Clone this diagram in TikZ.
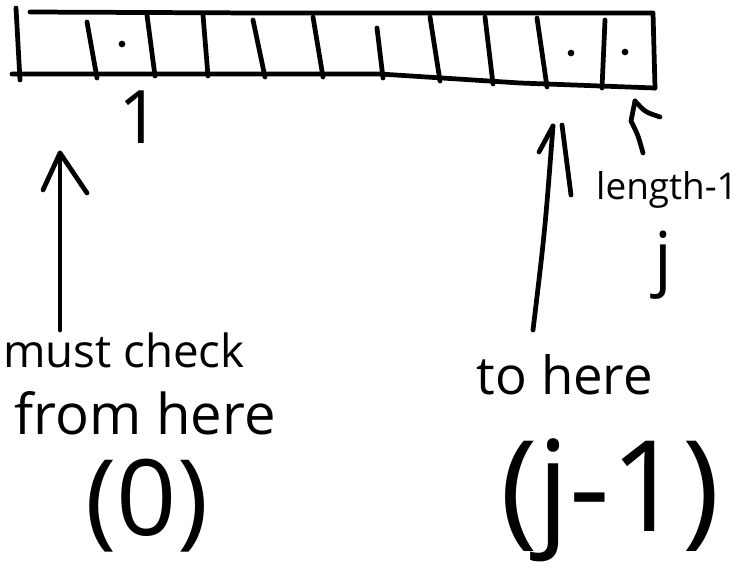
\documentclass[tikz,border=0pt]{standalone}
\usepackage{fontspec}
\setmainfont{Open Sans}
\usepackage{tikz}
\usetikzlibrary{calc}

\tikzset{
  ink/.style={line width=2.7pt, line cap=round, line join=round},
  dotmark/.style={circle, fill, inner sep=0pt, minimum size=3.8pt},
  hand/.style={inner sep=0pt, font=\fontsize{#1}{#1}\selectfont},
}

\begin{document}
\begin{tikzpicture}[x=0.02cm, y=-0.02cm]
    \useasboundingbox (0,0) rectangle (749,572);

    % 1. Outline of the array (left wall, top, right wall, bottom)
    \draw[ink] (16,8) -- (20,80);
    \draw[ink] (30,12) -- (260,13) -- (653,13) -- (655,88);
    \draw[ink] (12,74) -- (380,74) -- (520,83) -- (655,88);

    % 2. Walls between the cells, a bit slanted as drawn by hand
    \foreach \xt/\yt/\xb/\yb in {87/22/97/78, 147/15/155/76, 203/15/208/76,
                                 253/20/265/77, 313/17/323/77, 377/28/383/78,
                                 430/17/440/81, 485/17/493/84, 537/18/547/87,
                                 605/20/602/88}
      \draw[ink] (\xt,\yt) -- (\xb,\yb);

    % 3. Dots in the marked cells
    \node[dotmark] (dotone) at (122,44) {};
    \node[dotmark] (dotprev) at (571,53) {};
    \node[dotmark] (dotlast) at (625,52) {};

    % 4. Labels
    \node[hand=42] (one) at (140,117) {1};
    \node[hand=26] (check) at (124,350) {must check};
    \node[hand=32] (from) at (145,413) {from here};
    \node[hand=60] (zero) at (147,506) {(0)};
    \node[hand=30] (tohere) at (565,375) {to here};
    \node[hand=72] (jminus) at (610,500) {(j-1)};
    \node[hand=21] (len) at (667,190) {length-1};
    \node[hand=40] (jlab) at (663,265) {j};

    % 5. Arrow from "must check" up to the first cell
    \coordinate (tailA) at (60,330);
    \coordinate (tipA) at (60,153);
    \draw[ink] (tailA) -- (tipA);
    \draw[ink] (tipA) ++(-17,37) -- (tipA) -- ++(27,40);

    % 6. Arrow from "to here" up to cell j-1
    \coordinate (tailB) at (533,330);
    \coordinate (tipB) at (553,126);
    \draw[ink] (tailB) .. controls (545,230) .. (tipB);
    \draw[ink] (tipB) ++(-14,26) -- (tipB);
    \draw[ink] (tipB) ++(9,-1) -- ++(9,70);

    % 7. Short arrow from "length-1" up to the last cell
    \coordinate (tailC) at (643,153);
    \coordinate (tipC) at (635,101);
    \draw[ink] (tailC) .. controls (638,135) .. (631,121) -- (tipC);
    \draw[ink] (tipC) .. controls (645,112) .. (660,117);
\end{tikzpicture}
\end{document}
